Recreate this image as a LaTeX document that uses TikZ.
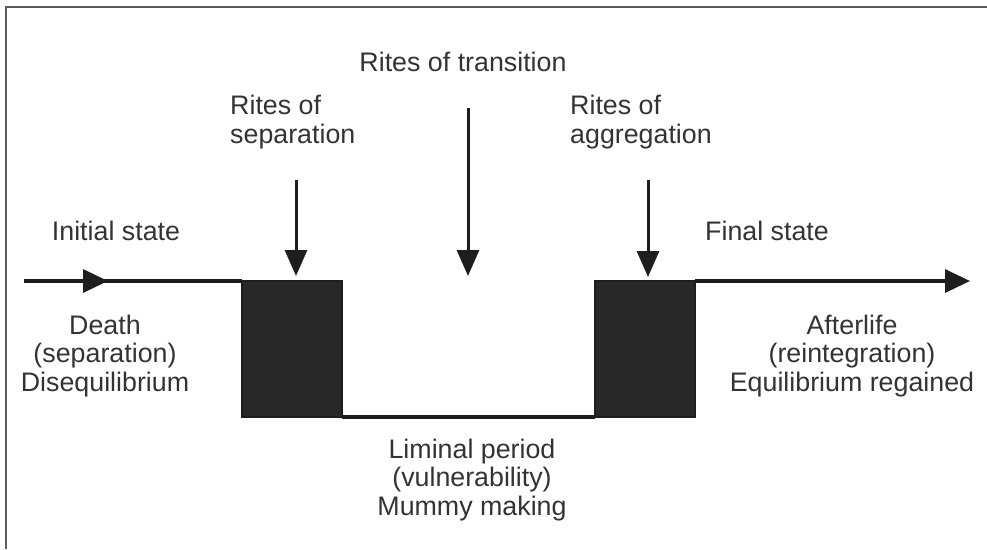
\documentclass[tikz,border=0pt]{standalone}
\usepackage{fontspec}
\setmainfont{Liberation Sans}
\usetikzlibrary{arrows.meta}
\definecolor{inkline}{HTML}{1E1E1E}
\definecolor{inktext}{HTML}{333333}
\definecolor{blockfill}{HTML}{282828}
\definecolor{framegray}{HTML}{5A5A5A}
\tikzset{
  ritetext/.style={text=inktext, font=\fontsize{26.8}{28.5}\selectfont, inner sep=0pt, align=center},
  flowline/.style={draw=inkline, line width=3.5pt},
  ritearrow/.style={draw=inkline, line width=3pt, -{Triangle[length=26pt,width=22pt]}},
  riteblock/.style={fill=blockfill, draw=inkline, line width=2pt},
}

\begin{document}
\begin{tikzpicture}[x=1pt,y=-1pt]
	\useasboundingbox (0,0) rectangle (987,549);
	% frame
	\draw [framegray, line width=2pt] (6,549) -- (6,7) -- (987,7);

	% time line
	\coordinate (start) at (24,281);
	\coordinate (arrowL) at (108,281);
	\coordinate (sepA) at (242,281);
	\coordinate (sepB) at (342,417);
	\coordinate (aggA) at (595,281);
	\coordinate (aggB) at (695,417);
	\coordinate (finish) at (970,281);

	\draw [riteblock] (sepA) rectangle (sepB);
	\draw [riteblock] (aggA) rectangle (aggB);
	\draw [flowline] (start) -- (sepA);
	\draw [flowline, -{Triangle[length=25pt,width=23pt]}] (start) -- (arrowL);
	\draw [flowline] (sepB) -- (aggA |- sepB);
	\draw [flowline, -{Triangle[length=25pt,width=23pt]}] (aggB |- aggA) -- (finish);

	% rites
	\coordinate (sepTop) at (296,180);
	\coordinate (sepTip) at (296,276);
	\coordinate (traTop) at (468,108);
	\coordinate (traTip) at (468,276);
	\coordinate (aggTop) at (648,180);
	\coordinate (aggTip) at (648,277);
	\draw [ritearrow] (sepTop) -- (sepTip);
	\draw [ritearrow] (traTop) -- (traTip);
	\draw [ritearrow] (aggTop) -- (aggTip);

	% labels
	\node [ritetext] (transition) at (463,62) {Rites of transition};
	\node [ritetext, align=left, anchor=west] (separation) at (230,122) {Rites of\\separation};
	\node [ritetext, align=left, anchor=west] (aggregation) at (570,122) {Rites of\\aggregation};
	\node [ritetext] (initial) at (116,231) {Initial state};
	\node [ritetext] (final) at (767,231) {Final state};
	\node [ritetext] (death) at (105,356) {Death\\(separation)\\Disequilibrium};
	\node [ritetext] (afterlife) at (852,356) {Afterlife\\(reintegration)\\Equilibrium regained};
	\node [ritetext] (liminal) at (472,480) {Liminal period\\(vulnerability)\\Mummy making};
\end{tikzpicture}
\end{document}
